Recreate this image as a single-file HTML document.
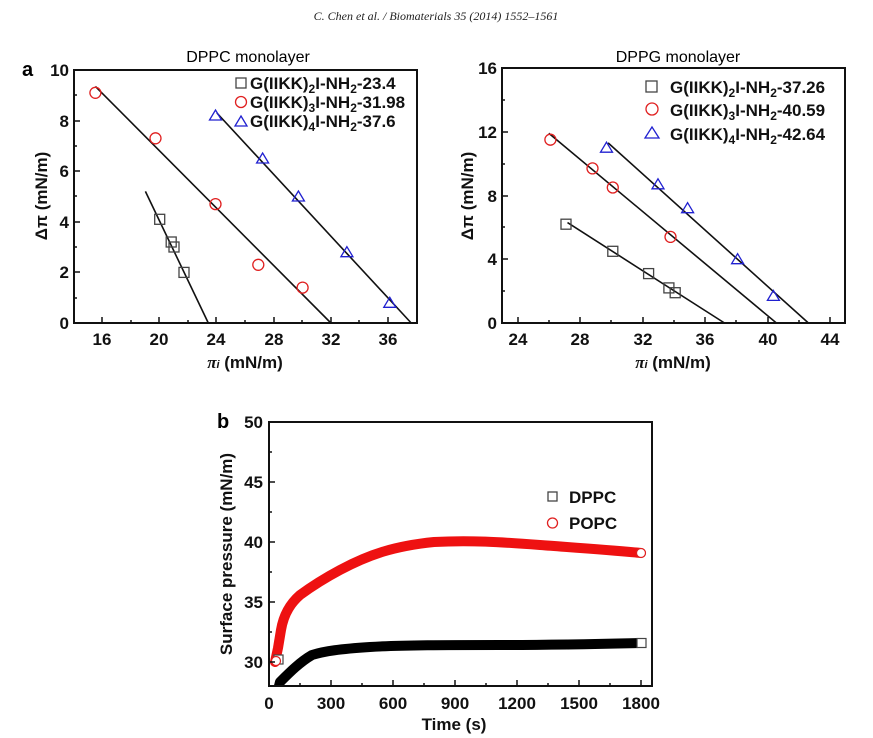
<!DOCTYPE html>
<html><head><meta charset="utf-8"><style>
html,body{margin:0;padding:0;background:#fff;}
svg{display:block;font-family:"Liberation Sans",sans-serif;}
.t{font-size:17px;font-weight:bold;fill:#111;}
.lg{font-size:17px;font-weight:bold;fill:#111;}
.ax{fill:none;stroke:#111;stroke-width:2;}
.fit{stroke:#111;stroke-width:1.6;fill:none;}
.sq{fill:none;stroke:#444;stroke-width:1.3;}
.ci{fill:none;stroke:#e02020;stroke-width:1.3;}
.tr{fill:none;stroke:#2020d0;stroke-width:1.3;}
</style></head><body>
<svg width="873" height="738" viewBox="0 0 873 738" xmlns="http://www.w3.org/2000/svg">
<text x="436" y="20" text-anchor="middle" font-family="Liberation Serif,serif" font-style="italic" font-size="12" fill="#222">C. Chen et al. / Biomaterials 35 (2014) 1552–1561</text>

<!-- Panel a left -->
<text x="22" y="76" font-size="20" font-weight="bold">a</text>
<text x="248" y="62" text-anchor="middle" font-size="16">DPPC monolayer</text>
<rect x="74" y="70" width="343" height="253" class="ax"/>
<g stroke="#111" stroke-width="1.5">
<line x1="102" y1="323" x2="102" y2="317"/><line x1="159" y1="323" x2="159" y2="317"/><line x1="216" y1="323" x2="216" y2="317"/><line x1="274" y1="323" x2="274" y2="317"/><line x1="331" y1="323" x2="331" y2="317"/><line x1="388" y1="323" x2="388" y2="317"/>
<line x1="131" y1="323" x2="131" y2="320"/><line x1="188" y1="323" x2="188" y2="320"/><line x1="245" y1="323" x2="245" y2="320"/><line x1="302" y1="323" x2="302" y2="320"/><line x1="359" y1="323" x2="359" y2="320"/>
<line x1="74" y1="272" x2="80" y2="272"/><line x1="74" y1="222" x2="80" y2="222"/><line x1="74" y1="171" x2="80" y2="171"/><line x1="74" y1="121" x2="80" y2="121"/>
<line x1="74" y1="298" x2="77" y2="298"/><line x1="74" y1="247" x2="77" y2="247"/><line x1="74" y1="196" x2="77" y2="196"/><line x1="74" y1="146" x2="77" y2="146"/><line x1="74" y1="95" x2="77" y2="95"/>
</g>
<g class="t" text-anchor="middle">
<text x="102" y="345">16</text><text x="159" y="345">20</text><text x="216" y="345">24</text><text x="274" y="345">28</text><text x="331" y="345">32</text><text x="388" y="345">36</text>
</g>
<g class="t" text-anchor="end">
<text x="69" y="329">0</text><text x="69" y="278">2</text><text x="69" y="228">4</text><text x="69" y="177">6</text><text x="69" y="127">8</text><text x="69" y="76">10</text>
</g>
<text x="245" y="368" text-anchor="middle" class="t"><tspan font-family="Liberation Serif,serif" font-style="italic">π</tspan><tspan font-size="11" font-style="italic">i</tspan> (mN/m)</text>
<text transform="translate(47,196) rotate(-90)" text-anchor="middle" class="t">Δπ (mN/m)</text>
<line class="fit" x1="145.4" y1="191.4" x2="208.3" y2="323"/>
<line class="fit" x1="95.4" y1="86.4" x2="330.9" y2="323"/>
<line class="fit" x1="216.9" y1="113" x2="411.2" y2="323"/>
<g class="sq"><rect x="154.7" y="214.3" width="10" height="10"/><rect x="166.2" y="237" width="10" height="10"/><rect x="169" y="242" width="10" height="10"/><rect x="179" y="267.4" width="10" height="10"/></g>
<g class="ci"><circle cx="95.4" cy="92.8" r="5.5"/><circle cx="155.5" cy="138.3" r="5.5"/><circle cx="215.5" cy="204.1" r="5.5"/><circle cx="258.3" cy="264.8" r="5.5"/><circle cx="302.6" cy="287.6" r="5.5"/></g>
<g class="tr"><path d="M215.5 110l6 10h-12z"/><path d="M262.6 153l6 10h-12z"/><path d="M298.4 191l6 10h-12z"/><path d="M346.9 246.7l6 10h-12z"/><path d="M389.8 297.3l6 10h-12z"/></g>
<rect class="sq" x="236" y="78" width="10" height="10"/>
<text x="250" y="89" class="lg">G(IIKK)<tspan font-size="12" dy="4">2</tspan><tspan dy="-4">I-NH</tspan><tspan font-size="12" dy="4">2</tspan><tspan dy="-4">-23.4</tspan></text>
<circle class="ci" cx="241" cy="102" r="5.5"/>
<text x="250" y="108" class="lg">G(IIKK)<tspan font-size="12" dy="4">3</tspan><tspan dy="-4">I-NH</tspan><tspan font-size="12" dy="4">2</tspan><tspan dy="-4">-31.98</tspan></text>
<path class="tr" d="M241 116l6 10h-12z"/>
<text x="250" y="127" class="lg">G(IIKK)<tspan font-size="12" dy="4">4</tspan><tspan dy="-4">I-NH</tspan><tspan font-size="12" dy="4">2</tspan><tspan dy="-4">-37.6</tspan></text>

<!-- Panel a right -->
<text x="678" y="62" text-anchor="middle" font-size="16">DPPG monolayer</text>
<rect x="502" y="68" width="343" height="255" class="ax"/>
<g stroke="#111" stroke-width="1.5">
<line x1="518" y1="323" x2="518" y2="317"/><line x1="580" y1="323" x2="580" y2="317"/><line x1="643" y1="323" x2="643" y2="317"/><line x1="705" y1="323" x2="705" y2="317"/><line x1="768" y1="323" x2="768" y2="317"/><line x1="830" y1="323" x2="830" y2="317"/>
<line x1="549" y1="323" x2="549" y2="320"/><line x1="611" y1="323" x2="611" y2="320"/><line x1="674" y1="323" x2="674" y2="320"/><line x1="736" y1="323" x2="736" y2="320"/><line x1="799" y1="323" x2="799" y2="320"/>
<line x1="502" y1="259" x2="508" y2="259"/><line x1="502" y1="196" x2="508" y2="196"/><line x1="502" y1="132" x2="508" y2="132"/>
<line x1="502" y1="291" x2="505" y2="291"/><line x1="502" y1="227" x2="505" y2="227"/><line x1="502" y1="164" x2="505" y2="164"/><line x1="502" y1="100" x2="505" y2="100"/>
</g>
<g class="t" text-anchor="middle">
<text x="518" y="345">24</text><text x="580" y="345">28</text><text x="643" y="345">32</text><text x="705" y="345">36</text><text x="768" y="345">40</text><text x="830" y="345">44</text>
</g>
<g class="t" text-anchor="end">
<text x="497" y="329">0</text><text x="497" y="265">4</text><text x="497" y="202">8</text><text x="497" y="138">12</text><text x="497" y="74">16</text>
</g>
<text x="673" y="368" text-anchor="middle" class="t"><tspan font-family="Liberation Serif,serif" font-style="italic">π</tspan><tspan font-size="11" font-style="italic">i</tspan> (mN/m)</text>
<text transform="translate(473,196) rotate(-90)" text-anchor="middle" class="t">Δπ (mN/m)</text>
<line class="fit" x1="567.5" y1="222.6" x2="724.5" y2="323"/>
<line class="fit" x1="548.8" y1="133.3" x2="776.4" y2="323"/>
<line class="fit" x1="608.1" y1="142.9" x2="808.4" y2="323"/>
<g class="sq"><rect x="561" y="219.2" width="10" height="10"/><rect x="607.8" y="246.3" width="10" height="10"/><rect x="643.6" y="268.6" width="10" height="10"/><rect x="663.9" y="282.9" width="10" height="10"/><rect x="670.2" y="287.7" width="10" height="10"/></g>
<g class="ci"><circle cx="550.4" cy="139.7" r="5.5"/><circle cx="592.5" cy="168.4" r="5.5"/><circle cx="612.8" cy="187.5" r="5.5"/><circle cx="670.5" cy="236.9" r="5.5"/></g>
<g class="tr"><path d="M606.5 142.2l6 10h-12z"/><path d="M658 178.8l6 10h-12z"/><path d="M687.6 202.7l6 10h-12z"/><path d="M737.6 253.7l6 10h-12z"/><path d="M773.4 290.4l6 10h-12z"/></g>
<rect class="sq" x="646" y="81" width="11" height="11"/>
<text x="670" y="93" class="lg">G(IIKK)<tspan font-size="12" dy="4">2</tspan><tspan dy="-4">I-NH</tspan><tspan font-size="12" dy="4">2</tspan><tspan dy="-4">-37.26</tspan></text>
<circle class="ci" cx="652" cy="109" r="6"/>
<text x="670" y="116" class="lg">G(IIKK)<tspan font-size="12" dy="4">3</tspan><tspan dy="-4">I-NH</tspan><tspan font-size="12" dy="4">2</tspan><tspan dy="-4">-40.59</tspan></text>
<path class="tr" d="M652 127l7 11h-14z"/>
<text x="670" y="140" class="lg">G(IIKK)<tspan font-size="12" dy="4">4</tspan><tspan dy="-4">I-NH</tspan><tspan font-size="12" dy="4">2</tspan><tspan dy="-4">-42.64</tspan></text>

<!-- Panel b -->
<text x="217" y="428" font-size="20" font-weight="bold">b</text>
<defs><clipPath id="cb"><rect x="270" y="423" width="381" height="262"/></clipPath></defs>
<g clip-path="url(#cb)" fill="none" stroke-linecap="round" stroke-linejoin="round">
<path stroke="#ee1111" stroke-width="10" d="M275 662 L278 648 L281 630 C284 612 292 602 300 595 C315 584 325 578 340 570 C370 554 395 546 434 542 C470 540 500 542 540 545 C580 548 610 550 641 553"/>
<path stroke="#000" stroke-width="10" d="M279 686 L280 682 C290 672 300 662 312 655 C325 651 340 649 370 647 C400 645 450 645 500 645 C560 645 600 644 641 643"/>
</g>
<rect x="274" y="655" width="9" height="9" fill="#fff" stroke="#444" stroke-width="1.2"/>
<circle cx="276" cy="661" r="4.5" fill="#fff" stroke="#e02020" stroke-width="1.2"/>
<rect x="637" y="638.5" width="9" height="9" fill="#fff" stroke="#444" stroke-width="1.2"/>
<circle cx="641" cy="553" r="4.5" fill="#fff" stroke="#e02020" stroke-width="1.2"/>
<rect x="269" y="422" width="383" height="264" class="ax"/>
<g stroke="#111" stroke-width="1.5">
<line x1="331" y1="686" x2="331" y2="680"/><line x1="393" y1="686" x2="393" y2="680"/><line x1="455" y1="686" x2="455" y2="680"/><line x1="517" y1="686" x2="517" y2="680"/><line x1="579" y1="686" x2="579" y2="680"/><line x1="641" y1="686" x2="641" y2="680"/>
<line x1="300" y1="686" x2="300" y2="683"/><line x1="362" y1="686" x2="362" y2="683"/><line x1="424" y1="686" x2="424" y2="683"/><line x1="486" y1="686" x2="486" y2="683"/><line x1="548" y1="686" x2="548" y2="683"/><line x1="610" y1="686" x2="610" y2="683"/>
<line x1="269" y1="662" x2="275" y2="662"/><line x1="269" y1="602" x2="275" y2="602"/><line x1="269" y1="542" x2="275" y2="542"/><line x1="269" y1="482" x2="275" y2="482"/>
<line x1="269" y1="632" x2="272" y2="632"/><line x1="269" y1="572" x2="272" y2="572"/><line x1="269" y1="512" x2="272" y2="512"/><line x1="269" y1="452" x2="272" y2="452"/>
</g>
<g class="t" text-anchor="middle">
<text x="269" y="709">0</text><text x="331" y="709">300</text><text x="393" y="709">600</text><text x="455" y="709">900</text><text x="517" y="709">1200</text><text x="579" y="709">1500</text><text x="641" y="709">1800</text>
</g>
<g class="t" text-anchor="end">
<text x="263" y="668">30</text><text x="263" y="608">35</text><text x="263" y="548">40</text><text x="263" y="488">45</text><text x="263" y="428">50</text>
</g>
<text x="454" y="730" text-anchor="middle" class="t">Time (s)</text>
<text transform="translate(232,554) rotate(-90)" text-anchor="middle" class="t">Surface pressure (mN/m)</text>
<rect x="548" y="492" width="9" height="9" fill="none" stroke="#444" stroke-width="1.3"/>
<text x="569" y="503" class="lg">DPPC</text>
<circle cx="552.5" cy="523" r="5" fill="none" stroke="#e02020" stroke-width="1.3"/>
<text x="569" y="529" class="lg">POPC</text>
</svg>
</body></html>
